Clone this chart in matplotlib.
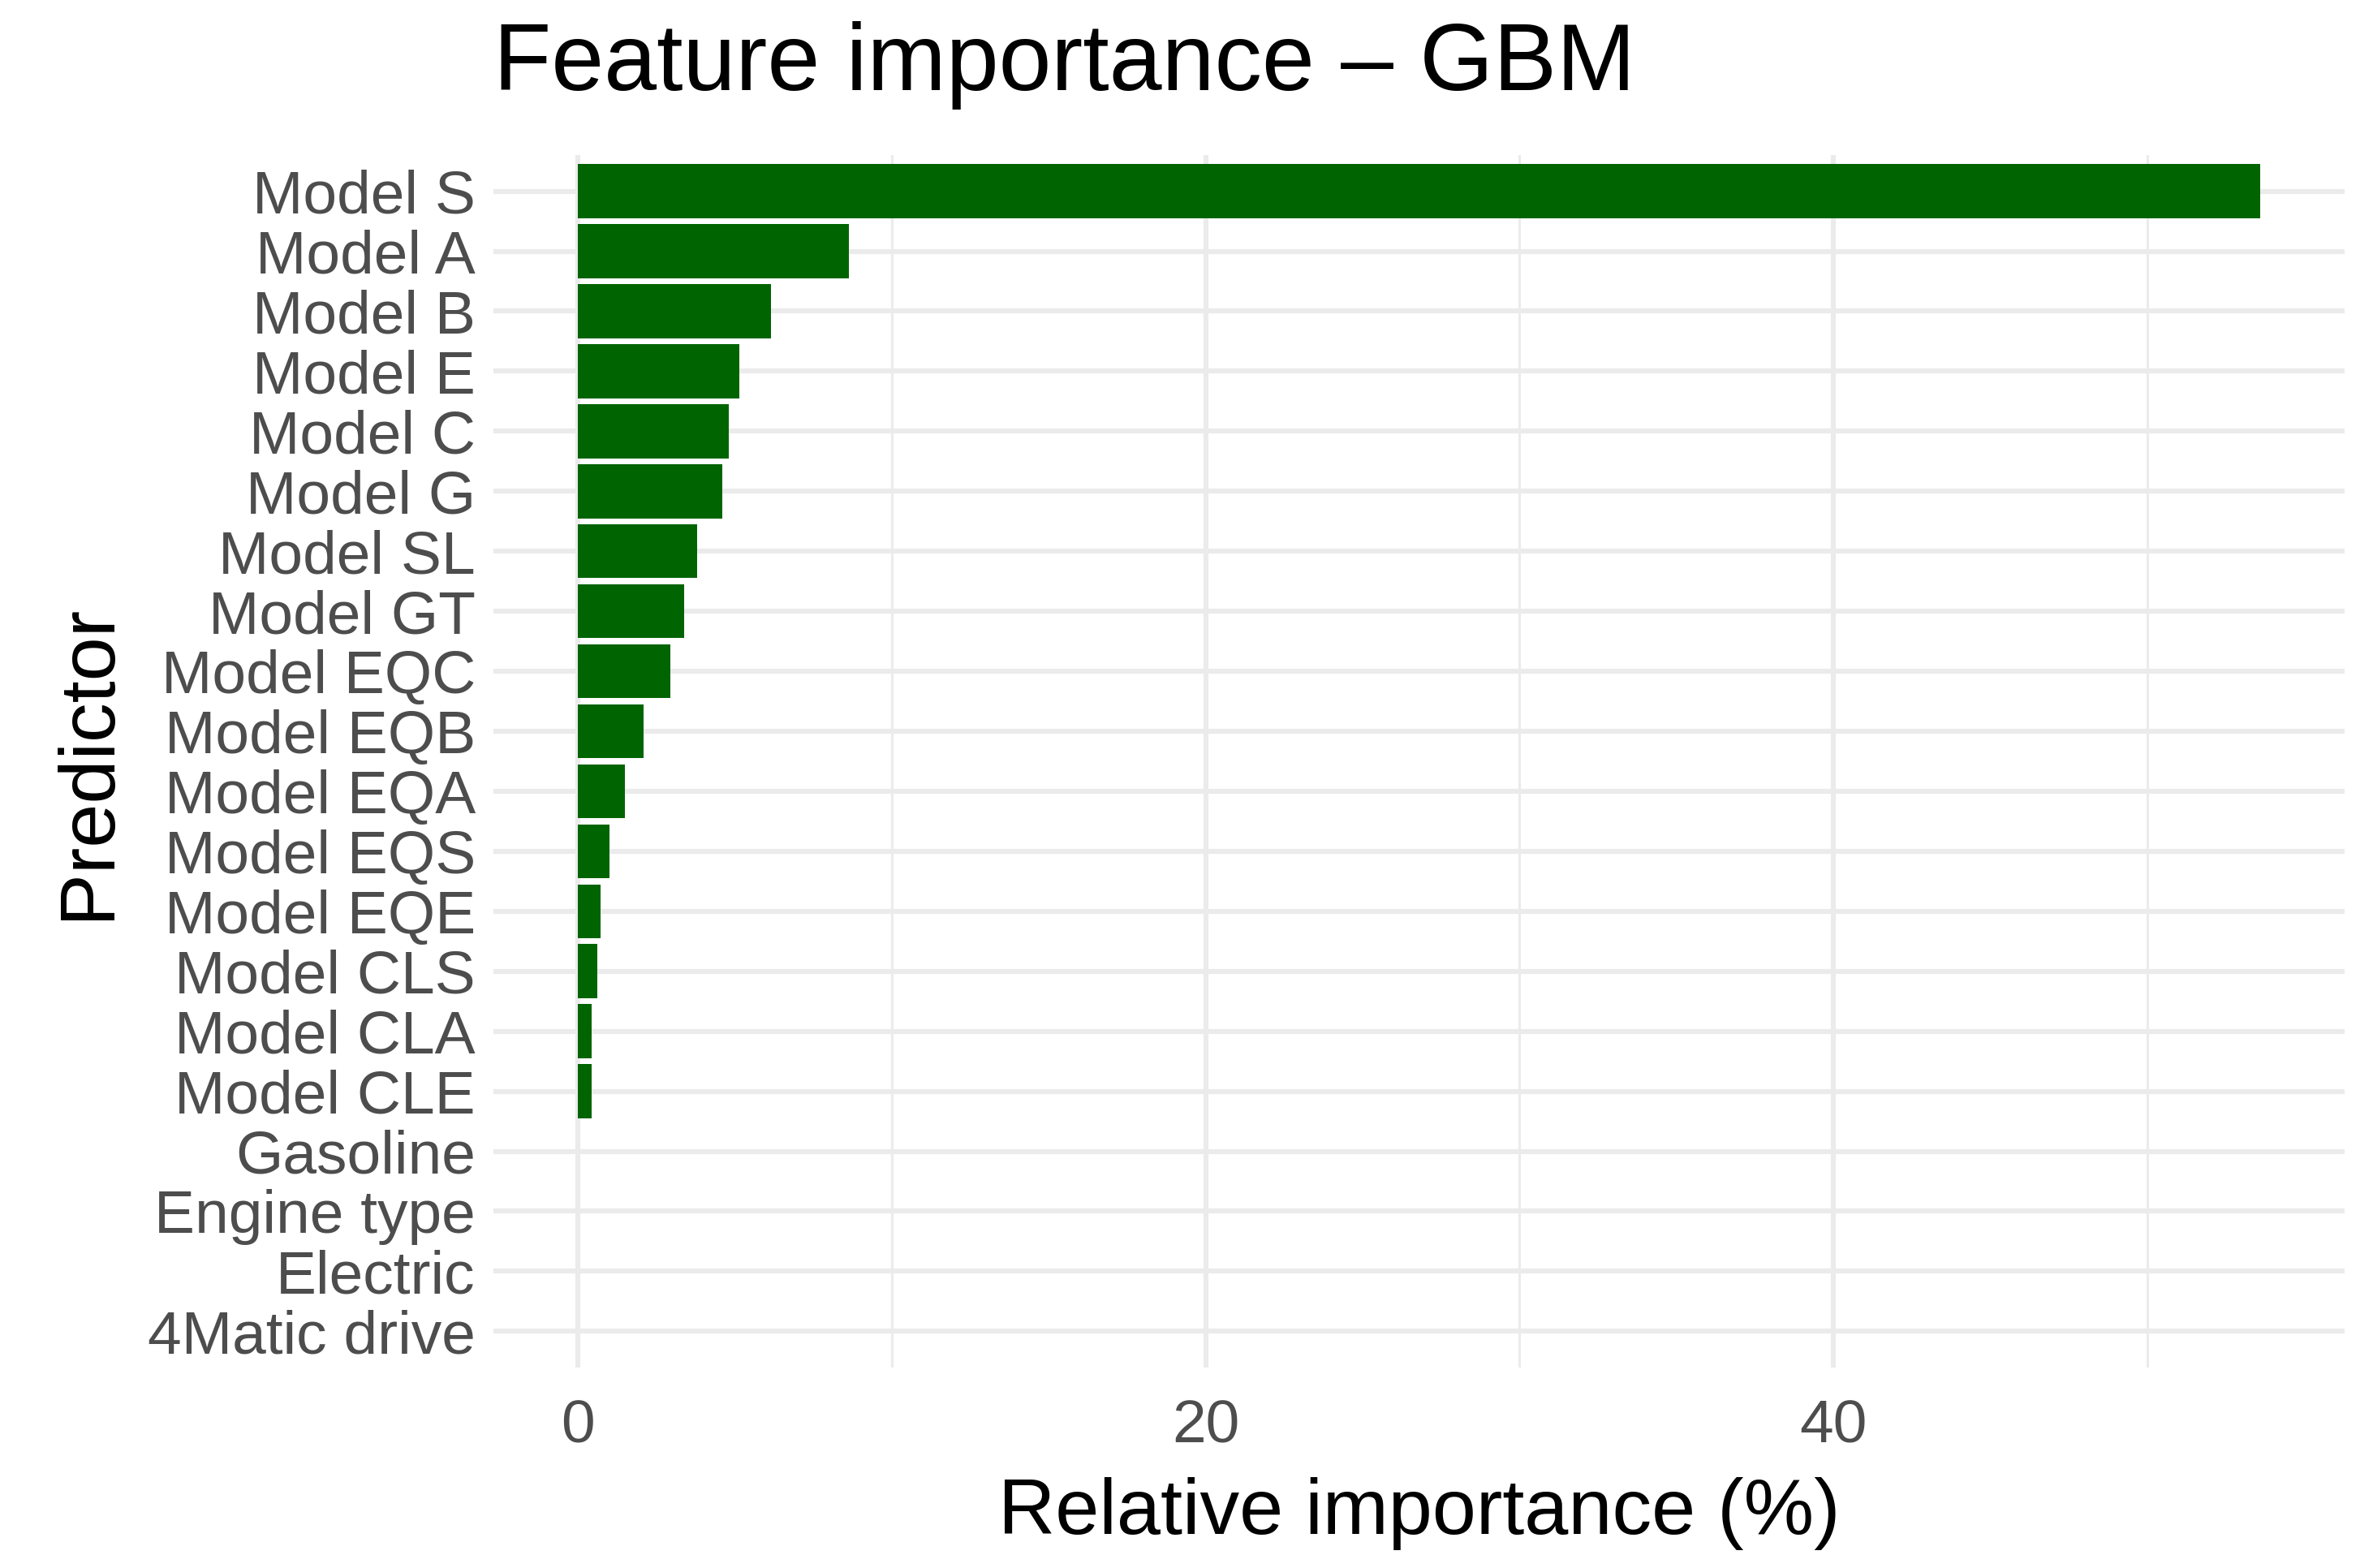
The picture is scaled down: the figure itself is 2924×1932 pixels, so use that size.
import matplotlib
matplotlib.use("Agg")
import matplotlib.pyplot as plt

predictors = ["Model S", "Model A", "Model B", "Model E", "Model C", "Model G", "Model SL",
              "Model GT", "Model EQC", "Model EQB", "Model EQA", "Model EQS", "Model EQE",
              "Model CLS", "Model CLA", "Model CLE", "Gasoline", "Engine type", "Electric",
              "4Matic drive"]
importance = [53.6, 8.65, 6.15, 5.15, 4.8, 4.6, 3.8, 3.4, 2.95, 2.1, 1.5, 1.0, 0.72,
              0.63, 0.45, 0.45, 0.0, 0.0, 0.0, 0.0]
xticks = [0, 20, 40]

plt.rcParams['font.family'] = ['Liberation Sans', 'DejaVu Sans']
fig = plt.figure(figsize=(14.62, 9.66), dpi=200)
ax = fig.add_axes([0.208, 0.128, 0.78, 0.773])

n = len(predictors)
ypos = list(range(n - 1, -1, -1))
ax.barh(ypos, importance, height=0.9, color="#006400", zorder=3)
ax.set_ylim(-0.6, n - 0.4)
xmax = max(importance)
ax.set_xlim(-0.05 * xmax, xmax * 1.05)
ax.set_yticks(ypos)
ax.set_yticklabels(predictors)
ax.set_xticks(xticks)
ax.set_xticks([10, 30, 50], minor=True)
ax.grid(True, which="major", color="#EBEBEB", linewidth=2.2, zorder=0)
ax.grid(True, which="minor", axis="x", color="#EBEBEB", linewidth=1.1, zorder=0)
for s in ax.spines.values():
    s.set_visible(False)
ax.tick_params(axis="both", which="both", length=0, labelsize=27, colors="#4D4D4D", pad=8)
ax.tick_params(axis="x", pad=14)
ax.set_xlabel("Relative importance (%)", fontsize=35, labelpad=10)
ax.set_ylabel("Predictor", fontsize=35, labelpad=10)
fig.text(0.208, 0.93, "Feature importance – GBM", fontsize=42, ha="left", va="bottom")
fig.savefig("out.png", dpi=200)
